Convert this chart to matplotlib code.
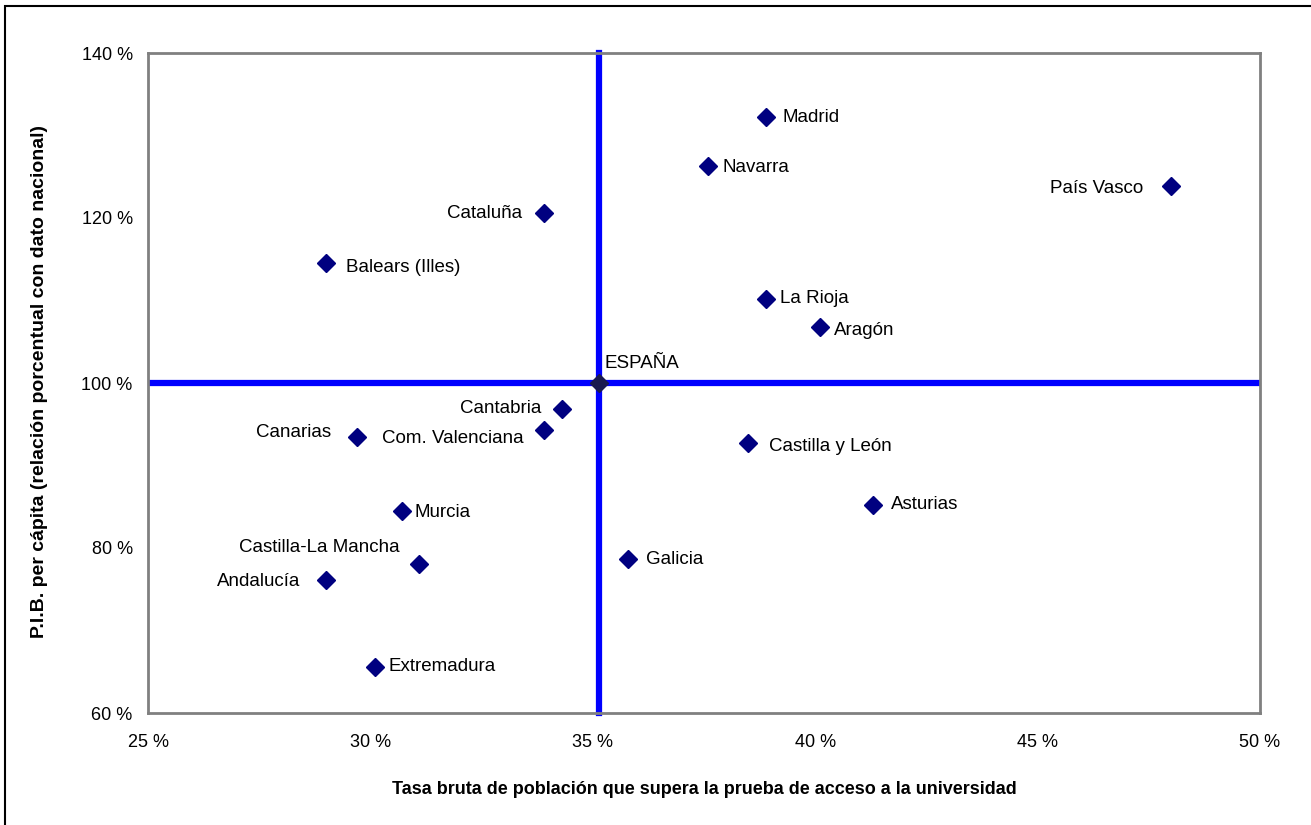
import matplotlib.pyplot as plt
from matplotlib.patches import Rectangle
from matplotlib.ticker import FuncFormatter

plt.rcParams['font.family'] = ['Liberation Sans', 'DejaVu Sans']

# Datos por comunidad: tasa de acceso (%) y PIB per cápita (España = 100)
regiones = ["Madrid", "Navarra", "País Vasco", "Cataluña", "Balears (Illes)",
            "La Rioja", "Aragón", "Cantabria", "Com. Valenciana", "Canarias",
            "Castilla y León", "Murcia", "Asturias", "Galicia",
            "Castilla-La Mancha", "Andalucía", "Extremadura"]
tasa = [38.9, 37.6, 48.0, 33.9, 29.0,
        38.9, 40.1, 34.3, 33.9, 29.7,
        38.5, 30.7, 41.3, 35.8,
        31.1, 29.0, 30.1]
pib = [132.2, 126.3, 123.9, 120.6, 114.5,
       110.2, 106.8, 96.8, 94.3, 93.5,
       92.7, 84.5, 85.2, 78.7,
       78.1, 76.1, 65.6]

espana_tasa = 35.15
espana_pib = 100.0

# posicion de etiquetas (pixeles desde el punto, y hacia abajo)
offsets = {
    "Madrid": (16, 0, "left"), "Navarra": (14, 1, "left"),
    "País Vasco": (-28, 3, "right"), "Cataluña": (-22, 0, "right"),
    "Balears (Illes)": (20, 4, "left"), "La Rioja": (14, 0, "left"),
    "Aragón": (14, 4, "left"), "Cantabria": (-20, -1, "right"),
    "Com. Valenciana": (-20, 8, "right"), "Canarias": (-26, -4, "right"),
    "Castilla y León": (21, 3, "left"), "Murcia": (13, 2, "left"),
    "Asturias": (18, -1, "left"), "Galicia": (18, 1, "left"),
    "Castilla-La Mancha": (-20, -16, "right"), "Andalucía": (-26, 1, "right"),
    "Extremadura": (14, 0, "left"),
}

fig = plt.figure(figsize=(13.11, 8.25), dpi=100)
ax = fig.add_axes([148 / 1311, 1 - 713 / 825, 1112 / 1311, 660 / 825])

# borde exterior
fig.patches.append(Rectangle((5 / 1311, -0.05), 1.1, 1 - 6 / 825 + 0.05,
                             transform=fig.transFigure, fill=False,
                             edgecolor='black', linewidth=1.5))

ax.axvline(espana_tasa, color='#0000FF', linewidth=4.5, zorder=2, clip_on=False)
ax.axhline(espana_pib, color='#0000FF', linewidth=4.5, zorder=2)

ax.plot(tasa, pib, linestyle='none', marker='D', markersize=9.5,
        color='#000080', zorder=3)
ax.plot([espana_tasa], [espana_pib], linestyle='none', marker='D',
        markersize=9.5, color='#1a1a50', zorder=3)

for nombre, x, y in zip(regiones, tasa, pib):
    dx, dy, ha = offsets[nombre]
    ax.annotate(nombre, (x, y), xytext=(dx, -dy), textcoords='offset pixels',
                ha=ha, va='center', fontsize=13.5)

ax.annotate("ESPAÑA", (espana_tasa, espana_pib), xytext=(5, 20),
            textcoords='offset pixels', ha='left', va='center', fontsize=13.5)

ax.set_xlim(25, 50)
ax.set_ylim(60, 140)
ax.set_xticks([25, 30, 35, 40, 45, 50])
ax.set_yticks([60, 80, 100, 120, 140])
pct = FuncFormatter(lambda v, p: f"{v:.0f} %")
ax.xaxis.set_major_formatter(pct)
ax.yaxis.set_major_formatter(pct)
ax.tick_params(length=0, labelsize=13, colors='black')
ax.tick_params(axis='x', pad=15)
ax.tick_params(axis='y', pad=11)

for s in ax.spines.values():
    s.set_color('#808080')
    s.set_linewidth(2)

fig.text(704 / 1311, 1 - 790 / 825,
         "Tasa bruta de población que supera la prueba de acceso a la universidad",
         ha='center', va='center', fontsize=13, fontweight='bold')
fig.text(40 / 1311, 1 - 381 / 825,
         "P.I.B. per cápita (relación porcentual con dato nacional)",
         ha='center', va='center', rotation=90, fontsize=14, fontweight='bold')

fig.savefig("out.png", dpi=100)
